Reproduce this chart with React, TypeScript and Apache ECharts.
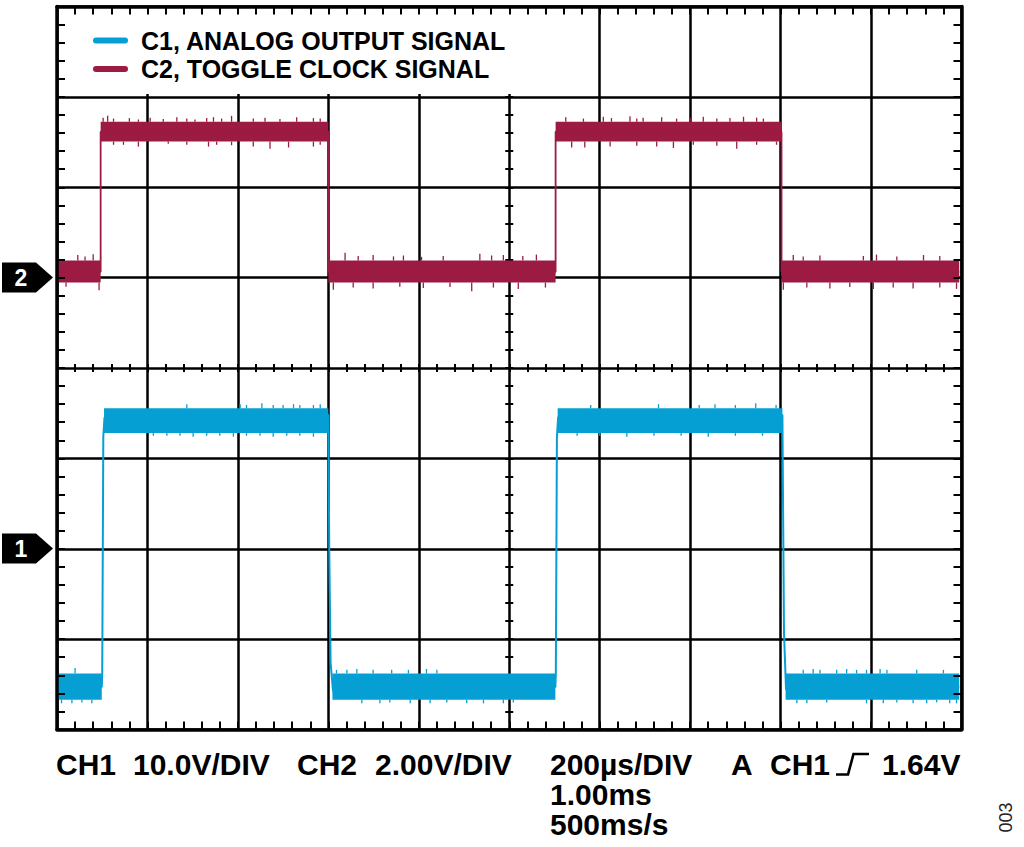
import React, { useEffect, useRef } from 'react';
import * as echarts from 'echarts';

const C1_NAME = 'C1, ANALOG OUTPUT SIGNAL';
const C2_NAME = 'C2, TOGGLE CLOCK SIGNAL';
const C1_COLOR = '#069fd4';
const C2_COLOR = '#9c1b42';
const FONT = '"Liberation Sans", Arial, Helvetica, sans-serif';

// time base: 10 div x 200 µs
const timeMin = 0;
const timeMax = 2000;
const timeStep = 200;

// CH1 (10.0V/DIV, ground marker 2 div below centre) -> volts
const ch1SegStart = [0, 104, 609, 1107, 1611];
const ch1SegEnd = [99, 600, 1102, 1604, 1995];
const ch1SegMin = [-16.7, 12.8, -16.7, 12.8, -16.7];
const ch1SegMax = [-13.8, 15.56, -13.8, 15.56, -13.8];
const ch1Trace = [
  [0, -15.3], [99, -15.3], [100, -13.8], [102.4, 12.4], [105, 14.5], [110, 14.8],
  [600, 14.8], [602, -0.1], [605, -12.6], [610, -15.6], [614, -16.2], [616, -15.3],
  [1102, -15.3], [1103, -13.8], [1105.4, 12.4], [1108, 14.5], [1113, 14.8],
  [1604, 14.8], [1607.5, -9.3], [1612, -15.6], [1616, -15.3], [1995, -15.3],
];
const ch1SpikesUp = [
  [40, -13.2],
  [287, 16.0], [405, 16.0], [419, 15.9], [453, 16.1], [478, 15.9], [500, 15.9], [523, 16.0], [537, 15.9], [567, 15.9], [582, 16.0],
  [618, -13.4], [641, -13.4], [663, -13.3], [699, -13.4], [740, -13.4], [777, -13.4], [817, -13.3], [840, -13.4],
  [1180, 15.9], [1330, 16.0], [1420, 15.9], [1455, 16.0], [1500, 15.9], [1545, 16.1], [1590, 15.9],
  [1650, -13.4], [1672, -13.3], [1687, -13.4], [1724, -13.4], [1746, -13.3], [1768, -13.4], [1790, -13.4], [1820, -13.3], [1835, -13.4], [1901, -13.4], [1960, -13.4],
];
const ch1SpikesDown = [
  [10, -17.1], [33, -17.1], [55, -17.0], [77, -17.1],
  [213, 12.5], [243, 12.5], [272, 12.5], [301, 12.4], [331, 12.5], [360, 12.5], [390, 12.4], [419, 12.5], [449, 12.5], [478, 12.4], [508, 12.5], [537, 12.5], [567, 12.4],
  [674, -17.1], [714, -17.1], [736, -17.0], [781, -17.1], [825, -17.1], [862, -17.0], [906, -17.1], [943, -17.1], [987, -17.1], [1009, -17.0],
  [1150, 12.5], [1200, 12.5], [1260, 12.4], [1320, 12.5], [1380, 12.5], [1440, 12.4], [1500, 12.5], [1560, 12.5],
  [1636, -17.1], [1658, -17.1], [1702, -17.0], [1790, -17.1], [1827, -17.1], [1857, -17.0], [1893, -17.1], [1923, -17.1], [1945, -17.0], [1974, -17.1], [1989, -17.1],
];

// CH2 (2.00V/DIV, ground marker 1 div above centre) -> volts
const ch2SegStart = [0, 96.5, 600, 1102.5, 1602];
const ch2SegEnd = [96.5, 600, 1102.5, 1602, 1995];
const ch2SegMin = [-0.11, 3.01, -0.11, 3.01, -0.11];
const ch2SegMax = [0.38, 3.45, 0.38, 3.45, 0.38];
const ch2Trace = [
  [0, 0.13], [96.5, 0.13], [96.5, 3.23], [600, 3.23], [600, 0.13], [1102.5, 0.13],
  [1102.5, 3.23], [1602, 3.23], [1602, 0.13], [1995, 0.13],
];
const ch2SpikesUp = [
  [46, 0.5], [62, 0.47], [80, 0.52],
  [102, 3.54], [112, 3.58], [125, 3.52], [160, 3.53], [180, 3.5], [206, 3.54], [235, 3.51], [265, 3.55], [287, 3.52], [305, 3.5], [331, 3.53], [346, 3.55], [364, 3.52], [386, 3.58], [434, 3.52], [460, 3.54], [493, 3.51], [530, 3.55], [567, 3.53], [582, 3.52],
  [637, 0.55], [666, 0.48], [699, 0.5], [744, 0.47], [766, 0.49], [806, 0.46], [854, 0.48], [935, 0.53], [961, 0.49], [987, 0.5], [1030, 0.48], [1060, 0.51],
  [1125, 3.55], [1164, 3.52], [1208, 3.56], [1226, 3.53], [1267, 3.57], [1282, 3.52], [1296, 3.54], [1337, 3.55], [1370, 3.52], [1400, 3.54], [1429, 3.56], [1459, 3.52], [1488, 3.53], [1518, 3.56], [1547, 3.54], [1562, 3.52],
  [1628, 0.5], [1650, 0.47], [1687, 0.49], [1783, 0.48], [1812, 0.51], [1857, 0.47], [1916, 0.5], [1952, 0.48],
];
const ch2SpikesDown = [
  [20, -0.2], [93, -0.28],
  [125, 2.94], [147, 2.94], [180, 2.9], [246, 2.96], [287, 2.94], [335, 2.9], [353, 2.94], [386, 2.93], [434, 2.9], [471, 2.85], [512, 2.88], [567, 2.9], [582, 2.94],
  [611, -0.27], [655, -0.22], [699, -0.24], [758, -0.2], [810, -0.23], [869, -0.21], [917, -0.3], [965, -0.22], [1020, -0.25], [1080, -0.22],
  [1138, 2.88], [1167, 2.88], [1223, 2.9], [1282, 2.92], [1326, 2.9], [1363, 2.87], [1407, 2.94], [1459, 2.92], [1503, 2.85], [1547, 2.94], [1591, 2.94],
  [1606, -0.27], [1658, -0.22], [1709, -0.24], [1753, -0.21], [1805, -0.25], [1849, -0.22], [1893, -0.24], [1952, -0.22], [1989, -0.25],
];

const segments = (s: number[], e: number[], lo: number[], hi: number[]) =>
  s.map((t, i) => [t, e[i], lo[i], hi[i]]);

// each spike is drawn from the band edge it sticks out of
const spikes = (list: number[][], s: number[], e: number[], lo: number[], hi: number[]) => {
  const out: number[][] = [];
  list.forEach(([t, v]) => {
    const i = s.findIndex((t0, k) => t >= t0 && t <= e[k]);
    if (i < 0) return;
    out.push([t, v, v > hi[i] ? hi[i] : lo[i]]);
  });
  return out;
};

const bandItem = (color: string) => (_: any, api: any) => {
  const a = api.coord([api.value(0), api.value(3)]);
  const b = api.coord([api.value(1), api.value(2)]);
  return {
    type: 'rect',
    shape: { x: a[0], y: a[1], width: b[0] - a[0], height: b[1] - a[1] },
    style: { fill: color },
  };
};

const spikeItem = (color: string) => (_: any, api: any) => {
  const a = api.coord([api.value(0), api.value(1)]);
  const b = api.coord([api.value(0), api.value(2)]);
  return {
    type: 'line',
    shape: { x1: a[0], y1: a[1], x2: b[0], y2: b[1] },
    style: { stroke: color, lineWidth: 1.3 },
  };
};

const black = '#000';
const noLabel = { show: false };

const xBase = { type: 'value', min: timeMin, max: timeMax, interval: timeStep, axisLabel: noLabel };
const yBase = { type: 'value', min: -4, max: 4, interval: 1, axisLabel: noLabel };

const borderAxis = (base: any, position: string, z: number) => ({
  ...base,
  position,
  z,
  axisLine: { show: true, onZero: false, lineStyle: { color: black, width: 3.5 } },
  axisTick: { show: true, inside: true, length: 8, lineStyle: { color: black, width: 2 } },
  minorTick: { show: true, splitNumber: 5, length: 8, lineStyle: { color: black, width: 2 } },
  splitLine: { show: false },
});

const centreAxis = (base: any, position: string, offset: number, inside: boolean) => ({
  ...base,
  position,
  offset,
  z: 0,
  axisLine: { show: false, onZero: false },
  axisTick: { show: true, inside, length: 4, lineStyle: { color: black, width: 2 } },
  minorTick: { show: true, splitNumber: 5, length: 4, lineStyle: { color: black, width: 2 } },
  splitLine: { show: false },
});

const text = (t: string, x: number, y: number) => ({
  type: 'text',
  x,
  y,
  style: { text: t, fill: black, font: `bold 30px ${FONT}`, verticalAlign: 'middle' },
});

const marker = (label: string, cy: number) => ({
  type: 'group',
  children: [
    {
      type: 'polygon',
      shape: { points: [[2, cy - 15], [36, cy - 15], [53, cy], [36, cy + 15], [2, cy + 15]] },
      style: { fill: black },
    },
    {
      type: 'text',
      x: 21,
      y: cy,
      style: { text: label, fill: '#fff', font: `bold 23px ${FONT}`, align: 'center', verticalAlign: 'middle' },
    },
  ],
});

const App = () => {
  const chartRef = useRef<HTMLDivElement>(null);

  useEffect(() => {
    const chart = echarts.init(chartRef.current, null, { renderer: 'svg' });
    chart.setOption({
      animation: false,
      backgroundColor: '#fff',
      grid: { left: 57, right: 62.5, top: 6.5, bottom: 117.5, containLabel: false },
      legend: {
        data: [C1_NAME, C2_NAME],
        orient: 'vertical',
        left: 88,
        top: 21.25,
        itemGap: 0,
        itemWidth: 35,
        itemHeight: 6,
        icon: 'path://M3 0H32A3 3 0 0 1 32 6H3A3 3 0 0 1 3 0Z',
        selectedMode: false,
        z: 4,
        textStyle: {
          color: black,
          fontFamily: FONT,
          fontWeight: 'bold',
          fontSize: 25,
          lineHeight: 28.5,
          padding: [0, 0, 0, 8],
        },
      },
      xAxis: [
        {
          ...xBase,
          position: 'bottom',
          z: 0,
          axisLine: { show: false, onZero: false },
          axisTick: { show: false },
          splitLine: { show: true, lineStyle: { color: black, width: 2.5 } },
        },
        borderAxis(xBase, 'bottom', 5),
        borderAxis(xBase, 'top', 5),
        centreAxis(xBase, 'bottom', -361.5, true),
        centreAxis(xBase, 'bottom', -361.5, false),
      ],
      yAxis: [
        {
          ...yBase,
          position: 'left',
          z: 0,
          axisLine: { show: false, onZero: false },
          axisTick: { show: false },
          splitLine: { show: true, lineStyle: { color: black, width: 2.5 } },
        },
        borderAxis(yBase, 'left', 5),
        borderAxis(yBase, 'right', 5),
        centreAxis(yBase, 'left', -452.25, true),
        centreAxis(yBase, 'left', -452.25, false),
        { type: 'value', min: -20, max: 60, show: false },
        { type: 'value', min: -10, max: 6, show: false },
      ],
      series: [
        {
          name: C1_NAME,
          type: 'custom',
          xAxisIndex: 0,
          yAxisIndex: 5,
          itemStyle: { color: C1_COLOR },
          encode: { x: [0, 1], y: [2, 3] },
          renderItem: bandItem(C1_COLOR),
          data: segments(ch1SegStart, ch1SegEnd, ch1SegMin, ch1SegMax),
        },
        {
          name: C1_NAME,
          type: 'custom',
          xAxisIndex: 0,
          yAxisIndex: 5,
          itemStyle: { color: C1_COLOR },
          encode: { x: 0, y: [1, 2] },
          renderItem: spikeItem(C1_COLOR),
          data: spikes([...ch1SpikesUp, ...ch1SpikesDown], ch1SegStart, ch1SegEnd, ch1SegMin, ch1SegMax),
        },
        {
          name: C1_NAME,
          type: 'line',
          xAxisIndex: 0,
          yAxisIndex: 5,
          color: C1_COLOR,
          showSymbol: false,
          lineStyle: { color: C1_COLOR, width: 2 },
          data: ch1Trace,
        },
        {
          name: C2_NAME,
          type: 'custom',
          xAxisIndex: 0,
          yAxisIndex: 6,
          itemStyle: { color: C2_COLOR },
          encode: { x: [0, 1], y: [2, 3] },
          renderItem: bandItem(C2_COLOR),
          data: segments(ch2SegStart, ch2SegEnd, ch2SegMin, ch2SegMax),
        },
        {
          name: C2_NAME,
          type: 'custom',
          xAxisIndex: 0,
          yAxisIndex: 6,
          itemStyle: { color: C2_COLOR },
          encode: { x: 0, y: [1, 2] },
          renderItem: spikeItem(C2_COLOR),
          data: spikes([...ch2SpikesUp, ...ch2SpikesDown], ch2SegStart, ch2SegEnd, ch2SegMin, ch2SegMax),
        },
        {
          name: C2_NAME,
          type: 'line',
          xAxisIndex: 0,
          yAxisIndex: 6,
          color: C2_COLOR,
          showSymbol: false,
          lineStyle: { color: C2_COLOR, width: 1.8 },
          data: ch2Trace,
        },
      ],
      graphic: [
        // white box behind the legend, hides the grid in the top row
        { type: 'rect', z: 3, shape: { x: 59, y: 8, width: 456, height: 86 }, style: { fill: '#fff' } },
        marker('2', 277.5),
        marker('1', 548.5),
        text('CH1', 56, 764),
        text('10.0V/DIV', 133, 764),
        text('CH2', 297, 764),
        text('2.00V/DIV', 375, 764),
        {
          type: 'text',
          x: 550,
          y: 749,
          style: {
            text: '200µs/DIV\n1.00ms\n500ms/s',
            fill: black,
            font: `bold 30px ${FONT}`,
            lineHeight: 30,
            verticalAlign: 'top',
          },
        },
        text('A', 731, 764),
        text('CH1', 770, 764),
        {
          type: 'polyline',
          shape: { points: [[836, 774.5], [848, 774.5], [853.5, 754], [869, 754]] },
          style: { stroke: black, lineWidth: 2.6, fill: null },
        },
        text('1.64V', 882, 764),
        {
          type: 'text',
          x: 1005.5,
          y: 817.5,
          rotation: Math.PI / 2,
          style: { text: '003', fill: '#222', font: `18px ${FONT}`, align: 'center', verticalAlign: 'middle' },
        },
      ],
    });
    return () => {
      chart.dispose();
    };
  }, []);

  return (
    <div
      ref={chartRef}
      style={{ position: 'fixed', left: 0, top: 0, width: 1024, height: 847, background: '#fff' }}
    />
  );
};

export default App;
